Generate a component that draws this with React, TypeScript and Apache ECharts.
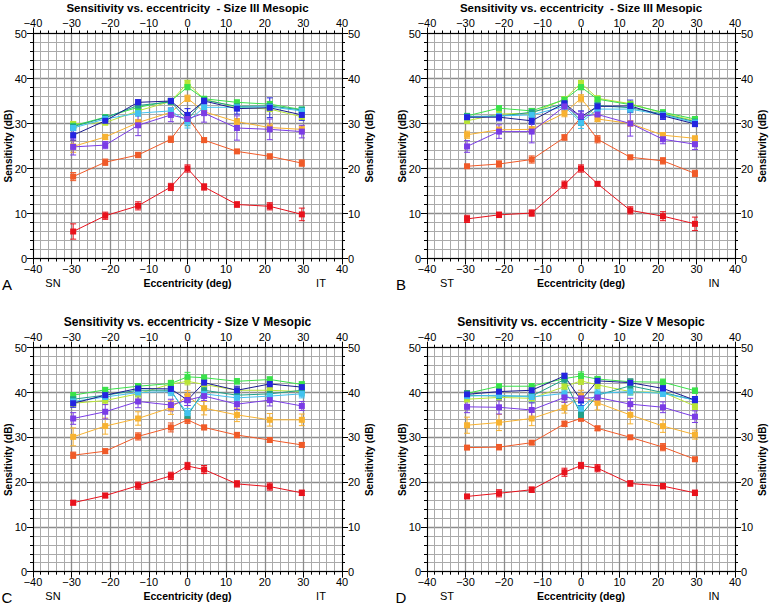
import React, { useEffect, useRef } from "react";
import * as echarts from "echarts";

// Eccentricity positions (deg)
const X = [-29.6, -21.3, -12.8, -4.3, 0, 4.3, 12.8, 21.3, 29.6];

const SERIES_KEYS = ["red", "orangeRed", "orange", "yellowGreen", "green", "teal", "cyan", "blue", "purple"];
const COLORS: Record<string, string> = {
  red: "#e8121c",
  orangeRed: "#f05a28",
  orange: "#f7b231",
  yellowGreen: "#b8e436",
  green: "#3ae24a",
  teal: "#1fa08a",
  cyan: "#42c2f0",
  blue: "#2424e0",
  purple: "#7a3ce6",
};
const LINE_COLORS: Record<string, string> = { ...COLORS, blue: "#1a1a90" };

// Panel A — Size III Mesopic (SN–IT)
const A_RED = [6.0, 9.5, 11.7, 15.9, 20.0, 15.9, 12.0, 11.6, 9.8];
const A_ORANGERED = [18.2, 21.4, 23.0, 26.5, 31.4, 26.3, 23.8, 22.7, 21.2];
const A_ORANGE = [24.9, 27.0, 30.2, 32.5, 35.6, 32.6, 30.4, 29.1, 28.7];
const A_YELLOWGREEN = [29.9, 30.2, 32.8, 34.9, 39.0, 35.4, 33.6, 33.2, 31.5];
const A_GREEN = [29.5, 31.4, 33.6, 35.0, 38.1, 35.5, 34.7, 34.3, 33.1];
const A_TEAL = [29.3, 31.3, 34.0, 34.8, 30.8, 35.2, 33.8, 33.9, 33.0];
const A_CYAN = [29.0, 31.0, 32.3, 32.8, 30.4, 33.6, 33.6, 33.7, 32.8];
const A_BLUE = [27.4, 30.6, 34.7, 35.0, 31.9, 35.0, 33.3, 33.5, 31.9];
const A_PURPLE = [24.8, 25.2, 29.6, 31.9, 31.0, 32.3, 29.0, 28.7, 28.2];

const A_RED_ERR = [1.7, 0.8, 0.9, 0.8, 0.8, 0.7, 0.6, 0.8, 1.4];
const A_ORANGERED_ERR = [0.9, 0.7, 0.6, 0.7, 0.7, 0.5, 0.4, 0.5, 0.7];
const A_ORANGE_ERR = [1.3, 0.6, 0.7, 0.7, 0.7, 0.6, 0.7, 0.8, 0.7];
const A_YELLOWGREEN_ERR = [0.5, 0.5, 0.6, 0.5, 0.6, 0.5, 0.5, 0.5, 0.6];
const A_GREEN_ERR = [0.5, 0.5, 0.5, 0.5, 0.6, 0.5, 0.5, 0.6, 0.5];
const A_TEAL_ERR = [0.5, 0.5, 0.7, 0.6, 1.3, 0.6, 0.6, 0.6, 0.6];
const A_CYAN_ERR = [0.6, 0.6, 0.7, 0.7, 1.4, 0.8, 0.7, 0.7, 0.8];
const A_BLUE_ERR = [1.1, 0.6, 0.6, 0.6, 1.4, 0.7, 1.2, 2.2, 1.2];
const A_PURPLE_ERR = [1.8, 0.8, 2.3, 1.5, 1.0, 2.0, 2.7, 2.3, 1.4];

// Panel B — Size III Mesopic (ST–IN)
const B_RED = [8.8, 9.7, 10.1, 16.4, 20.0, 16.6, 10.7, 9.4, 7.7];
const B_ORANGERED = [20.5, 21.0, 22.0, 26.9, 31.4, 26.5, 22.5, 21.7, 18.9];
const B_ORANGE = [27.5, 28.6, 28.7, 32.3, 35.6, 31.0, 30.0, 27.4, 26.7];
const B_YELLOWGREEN = [30.6, 32.1, 32.3, 35.4, 39.0, 35.6, 34.4, 32.3, 30.6];
const B_GREEN = [31.7, 33.4, 32.8, 35.3, 38.1, 35.4, 34.2, 32.5, 31.0];
const B_TEAL = [31.6, 31.6, 32.5, 34.4, 30.6, 34.0, 33.5, 32.1, 30.4];
const B_CYAN = [31.4, 31.7, 31.9, 33.8, 30.2, 33.2, 33.2, 31.9, 30.2];
const B_BLUE = [31.4, 31.4, 30.6, 34.5, 31.5, 33.8, 33.9, 31.7, 29.9];
const B_PURPLE = [24.9, 28.2, 28.2, 33.8, 31.6, 32.0, 30.0, 26.5, 25.4];

const B_RED_ERR = [0.8, 0.6, 0.7, 0.8, 0.8, 0.4, 0.8, 1.0, 1.5];
const B_ORANGERED_ERR = [0.4, 0.7, 0.8, 0.6, 0.6, 0.8, 0.4, 0.7, 0.7];
const B_ORANGE_ERR = [0.8, 0.6, 0.6, 0.8, 0.8, 0.6, 0.6, 0.6, 0.5];
const B_YELLOWGREEN_ERR = [0.5, 0.5, 0.5, 0.5, 0.6, 0.5, 0.5, 0.5, 0.5];
const B_GREEN_ERR = [0.5, 0.5, 0.5, 0.5, 0.6, 0.5, 0.5, 0.5, 0.5];
const B_TEAL_ERR = [0.5, 0.5, 0.8, 0.6, 1.0, 0.6, 1.0, 0.6, 0.5];
const B_CYAN_ERR = [0.5, 0.5, 0.6, 0.6, 1.3, 0.6, 0.8, 0.6, 0.6];
const B_BLUE_ERR = [0.6, 0.8, 0.8, 0.8, 1.3, 0.7, 1.3, 0.8, 0.6];
const B_PURPLE_ERR = [1.3, 1.5, 2.5, 1.0, 1.0, 1.0, 2.8, 1.0, 1.2];

// Panel C — Size V Mesopic (SN–IT)
const C_RED = [15.4, 17.0, 19.2, 21.4, 23.6, 22.8, 19.6, 19.0, 17.6];
const C_ORANGERED = [26.0, 26.9, 30.2, 32.2, 33.9, 32.2, 30.5, 29.4, 28.3];
const C_ORANGE = [30.1, 32.5, 34.2, 36.6, 39.2, 36.5, 35.0, 33.9, 33.9];
const C_YELLOWGREEN = [37.6, 38.2, 39.7, 41.9, 42.5, 41.8, 40.5, 40.5, 40.2];
const C_GREEN = [39.4, 40.6, 41.4, 42.0, 43.5, 43.3, 42.5, 42.9, 41.8];
const C_TEAL = [38.5, 39.4, 40.5, 40.5, 34.8, 40.5, 39.4, 39.7, 40.5];
const C_CYAN = [38.0, 39.0, 40.0, 40.2, 35.4, 39.7, 38.8, 39.2, 39.7];
const C_BLUE = [37.6, 39.4, 40.9, 40.8, 38.3, 42.2, 40.5, 41.9, 41.2];
const C_PURPLE = [34.2, 35.7, 38.0, 37.2, 38.3, 39.2, 37.4, 38.3, 37.0];

const C_RED_ERR = [0.5, 0.5, 0.8, 0.8, 0.8, 0.9, 0.7, 0.8, 0.6];
const C_ORANGERED_ERR = [0.7, 0.5, 0.8, 1.0, 0.8, 0.5, 0.6, 0.5, 0.5];
const C_ORANGE_ERR = [2.0, 1.8, 1.5, 1.5, 1.2, 1.5, 1.5, 1.4, 1.3];
const C_YELLOWGREEN_ERR = [0.7, 0.8, 0.9, 0.8, 0.8, 0.8, 0.8, 0.8, 0.8];
const C_GREEN_ERR = [0.6, 0.5, 0.6, 0.7, 1.0, 0.6, 0.6, 0.6, 0.6];
const C_TEAL_ERR = [0.6, 0.8, 0.8, 0.8, 0.6, 0.8, 0.8, 0.8, 0.8];
const C_CYAN_ERR = [0.8, 0.9, 0.9, 0.9, 1.0, 0.9, 0.9, 0.9, 0.9];
const C_BLUE_ERR = [0.9, 0.8, 0.8, 1.0, 1.2, 0.8, 0.9, 0.8, 0.8];
const C_PURPLE_ERR = [1.3, 1.6, 1.4, 1.3, 1.2, 1.0, 1.2, 1.3, 1.0];

// Panel D — Size V Mesopic (ST–IN)
const D_RED = [16.8, 17.5, 18.3, 22.2, 23.7, 23.1, 19.7, 19.1, 17.6];
const D_ORANGERED = [27.7, 27.8, 28.8, 33.0, 34.2, 32.0, 30.0, 27.8, 25.1];
const D_ORANGE = [32.7, 33.3, 34.2, 36.6, 39.2, 37.7, 35.0, 32.5, 30.6];
const D_YELLOWGREEN = [38.5, 38.9, 38.7, 41.3, 42.6, 41.7, 40.2, 40.0, 37.0];
const D_GREEN = [39.8, 41.4, 41.4, 43.1, 43.7, 43.0, 42.4, 42.3, 40.4];
const D_TEAL = [39.4, 39.2, 39.2, 42.9, 35.0, 39.4, 41.5, 40.0, 38.3];
const D_CYAN = [39.2, 39.4, 39.0, 39.8, 36.4, 39.8, 40.2, 39.8, 38.3];
const D_BLUE = [39.6, 40.2, 40.5, 43.7, 38.3, 42.6, 42.2, 40.9, 38.3];
const D_PURPLE = [36.8, 36.7, 36.1, 38.9, 38.7, 38.9, 37.4, 36.7, 34.6];

const D_RED_ERR = [0.4, 0.8, 0.6, 0.9, 0.7, 0.8, 0.6, 0.6, 0.6];
const D_ORANGERED_ERR = [0.4, 0.6, 0.4, 0.6, 0.6, 0.5, 0.4, 0.8, 0.4];
const D_ORANGE_ERR = [1.8, 1.8, 1.6, 1.2, 1.3, 1.6, 2.0, 1.4, 1.0];
const D_YELLOWGREEN_ERR = [0.6, 0.6, 0.7, 0.7, 0.8, 0.8, 0.7, 0.7, 0.8];
const D_GREEN_ERR = [0.5, 0.5, 0.6, 0.6, 0.9, 0.6, 0.6, 0.7, 0.6];
const D_TEAL_ERR = [0.6, 0.6, 1.5, 0.8, 0.8, 0.7, 0.9, 0.7, 0.7];
const D_CYAN_ERR = [0.7, 0.8, 0.9, 0.8, 1.2, 0.8, 0.8, 0.7, 0.8];
const D_BLUE_ERR = [0.8, 0.8, 0.9, 0.6, 1.2, 0.7, 0.8, 0.7, 0.8];
const D_PURPLE_ERR = [1.3, 1.5, 1.6, 1.1, 1.0, 1.0, 1.3, 1.2, 1.3];

const TITLE_III = "Sensitivity vs. eccentricity  - Size III Mesopic";
const TITLE_V = "Sensitivity vs. eccentricity - Size V Mesopic";
const X_NAME = "Eccentricity (deg)";
const Y_NAME = "Sensitivity (dB)";

const PANEL_DATA = [
  {
    values: [A_RED, A_ORANGERED, A_ORANGE, A_YELLOWGREEN, A_GREEN, A_TEAL, A_CYAN, A_BLUE, A_PURPLE],
    errors: [A_RED_ERR, A_ORANGERED_ERR, A_ORANGE_ERR, A_YELLOWGREEN_ERR, A_GREEN_ERR, A_TEAL_ERR, A_CYAN_ERR, A_BLUE_ERR, A_PURPLE_ERR],
    title: TITLE_III, letter: "A", leftTag: "SN", rightTag: "IT",
  },
  {
    values: [B_RED, B_ORANGERED, B_ORANGE, B_YELLOWGREEN, B_GREEN, B_TEAL, B_CYAN, B_BLUE, B_PURPLE],
    errors: [B_RED_ERR, B_ORANGERED_ERR, B_ORANGE_ERR, B_YELLOWGREEN_ERR, B_GREEN_ERR, B_TEAL_ERR, B_CYAN_ERR, B_BLUE_ERR, B_PURPLE_ERR],
    title: TITLE_III, letter: "B", leftTag: "ST", rightTag: "IN",
  },
  {
    values: [C_RED, C_ORANGERED, C_ORANGE, C_YELLOWGREEN, C_GREEN, C_TEAL, C_CYAN, C_BLUE, C_PURPLE],
    errors: [C_RED_ERR, C_ORANGERED_ERR, C_ORANGE_ERR, C_YELLOWGREEN_ERR, C_GREEN_ERR, C_TEAL_ERR, C_CYAN_ERR, C_BLUE_ERR, C_PURPLE_ERR],
    title: TITLE_V, letter: "C", leftTag: "SN", rightTag: "IT",
  },
  {
    values: [D_RED, D_ORANGERED, D_ORANGE, D_YELLOWGREEN, D_GREEN, D_TEAL, D_CYAN, D_BLUE, D_PURPLE],
    errors: [D_RED_ERR, D_ORANGERED_ERR, D_ORANGE_ERR, D_YELLOWGREEN_ERR, D_GREEN_ERR, D_TEAL_ERR, D_CYAN_ERR, D_BLUE_ERR, D_PURPLE_ERR],
    title: TITLE_V, letter: "D", leftTag: "ST", rightTag: "IN",
  },
];

// Layout (pixels)
const LAYOUT = [
  { left: 33, top: 33.5, width: 309, height: 225 },
  { left: 427, top: 33.5, width: 308, height: 225 },
  { left: 33, top: 347.7, width: 309, height: 224 },
  { left: 427, top: 347.7, width: 308, height: 224 },
];

const FONT = "'Liberation Sans', Arial, sans-serif";
const fmt = (v: number) => (v < 0 ? "\u2212" + Math.abs(v) : String(v));

function buildOption() {
  const grid: any[] = [];
  const xAxis: any[] = [];
  const yAxis: any[] = [];
  const series: any[] = [];
  const graphic: any[] = [];

  LAYOUT.forEach((L, i) => {
    grid.push({ left: L.left, top: L.top, width: L.width, height: L.height, show: true, backgroundColor: "#fff", borderWidth: 0 });
    const baseX = {
      gridIndex: i, type: "value", min: -40, max: 40, interval: 10,
      axisLine: { show: true, onZero: false, lineStyle: { color: "#000", width: 1 } },
      axisTick: { show: true, length: 6, lineStyle: { color: "#000" } },
      minorTick: { show: true, splitNumber: 5, length: 3, lineStyle: { color: "#000" } },
      axisLabel: { formatter: fmt, fontFamily: FONT, fontSize: 11, color: "#000", margin: 5, showMinLabel: true, showMaxLabel: true },
    };
    xAxis.push({
      ...baseX, position: "bottom",
      splitLine: { show: true, lineStyle: { color: "#8c8c8c", width: 1.3 } },
      minorSplitLine: { show: true, lineStyle: { color: "#aaaaaa", width: 1 } },
    });
    xAxis.push({ ...baseX, position: "top", splitLine: { show: false }, minorSplitLine: { show: false } });
    const baseY = {
      gridIndex: i, type: "value", min: 0, max: 50, interval: 10,
      axisLine: { show: true, onZero: false, lineStyle: { color: "#000", width: 1 } },
      axisTick: { show: true, length: 6, lineStyle: { color: "#000" } },
      minorTick: { show: true, splitNumber: 5, length: 3, lineStyle: { color: "#000" } },
      axisLabel: { fontFamily: FONT, fontSize: 11, color: "#000", margin: 6 },
    };
    yAxis.push({
      ...baseY, position: "left",
      splitLine: { show: true, lineStyle: { color: "#8c8c8c", width: 1.3 } },
      minorSplitLine: { show: true, lineStyle: { color: "#aaaaaa", width: 1 } },
    });
    yAxis.push({ ...baseY, position: "right", splitLine: { show: false }, minorSplitLine: { show: false } });

    const P = PANEL_DATA[i];
    SERIES_KEYS.forEach((key, k) => {
      const vals = P.values[k];
      const errs = P.errors[k];
      const color = COLORS[key];
      series.push({
        type: "custom",
        xAxisIndex: 2 * i, yAxisIndex: 2 * i,
        z: 2,
        encode: { x: 0, y: 1 },
        data: X.map((x, j) => [x, vals[j], errs[j]]),
        renderItem: (params: any, api: any) => {
          const x = api.value(0), y = api.value(1), e = api.value(2);
          const t = api.coord([x, y + e]);
          const b = api.coord([x, y - e]);
          const st = { stroke: color, lineWidth: 1 };
          return {
            type: "group",
            children: [
              { type: "line", shape: { x1: t[0], y1: t[1], x2: b[0], y2: b[1] }, style: st },
              { type: "line", shape: { x1: t[0] - 3, y1: t[1], x2: t[0] + 3, y2: t[1] }, style: st },
              { type: "line", shape: { x1: b[0] - 3, y1: b[1], x2: b[0] + 3, y2: b[1] }, style: st },
            ],
          };
        },
      });
      series.push({
        type: "line",
        xAxisIndex: 2 * i, yAxisIndex: 2 * i,
        z: 3,
        data: X.map((x, j) => [x, vals[j]]),
        symbol: "rect",
        symbolSize: 6,
        lineStyle: { color: LINE_COLORS[key], width: 1 },
        itemStyle: { color },
      });
    });

    const cx = L.left + L.width / 2;
    const cy = L.top + L.height / 2;
    const bottom = L.top + L.height;
    graphic.push(
      { type: "text", x: cx, y: L.top - 26, style: { text: P.title, fontFamily: FONT, fontSize: i < 2 ? 11.5 : 12, fontWeight: "bold", fill: "#000", textAlign: "center", textVerticalAlign: "middle" } },
      { type: "text", x: cx, y: bottom + 24.5, style: { text: X_NAME, fontFamily: FONT, fontSize: 10.5, fontWeight: "bold", fill: "#000", textAlign: "center", textVerticalAlign: "middle" } },
      { type: "text", x: L.left + 20, y: bottom + 24.5, style: { text: P.leftTag, fontFamily: FONT, fontSize: 11, fill: "#000", textAlign: "center", textVerticalAlign: "middle" } },
      { type: "text", x: L.left + L.width - 21, y: bottom + 24.5, style: { text: P.rightTag, fontFamily: FONT, fontSize: 11, fill: "#000", textAlign: "center", textVerticalAlign: "middle" } },
      { type: "text", x: L.left - 26, y: bottom + 26, style: { text: P.letter, fontFamily: FONT, fontSize: 15, fill: "#000", textAlign: "center", textVerticalAlign: "middle" } },
      { type: "text", x: L.left - 25, y: cy, rotation: Math.PI / 2, style: { text: Y_NAME, fontFamily: FONT, fontSize: 10, fontWeight: "bold", fill: "#000", textAlign: "center", textVerticalAlign: "middle" } },
      { type: "text", x: L.left + L.width + 27, y: cy, rotation: Math.PI / 2, style: { text: Y_NAME, fontFamily: FONT, fontSize: 10, fontWeight: "bold", fill: "#000", textAlign: "center", textVerticalAlign: "middle" } },
    );
  });

  return {
    animation: false,
    backgroundColor: "#fff",
    grid, xAxis, yAxis, series, graphic,
  };
}

export default function App() {
  const ref = useRef<HTMLDivElement>(null);
  useEffect(() => {
    if (!ref.current) return;
    const chart = echarts.init(ref.current, null, { renderer: "svg" });
    chart.setOption(buildOption() as any);
    return () => chart.dispose();
  }, []);
  return <div ref={ref} style={{ position: "absolute", left: 0, top: 0, width: 769, height: 607, background: "#fff" }} />;
}
